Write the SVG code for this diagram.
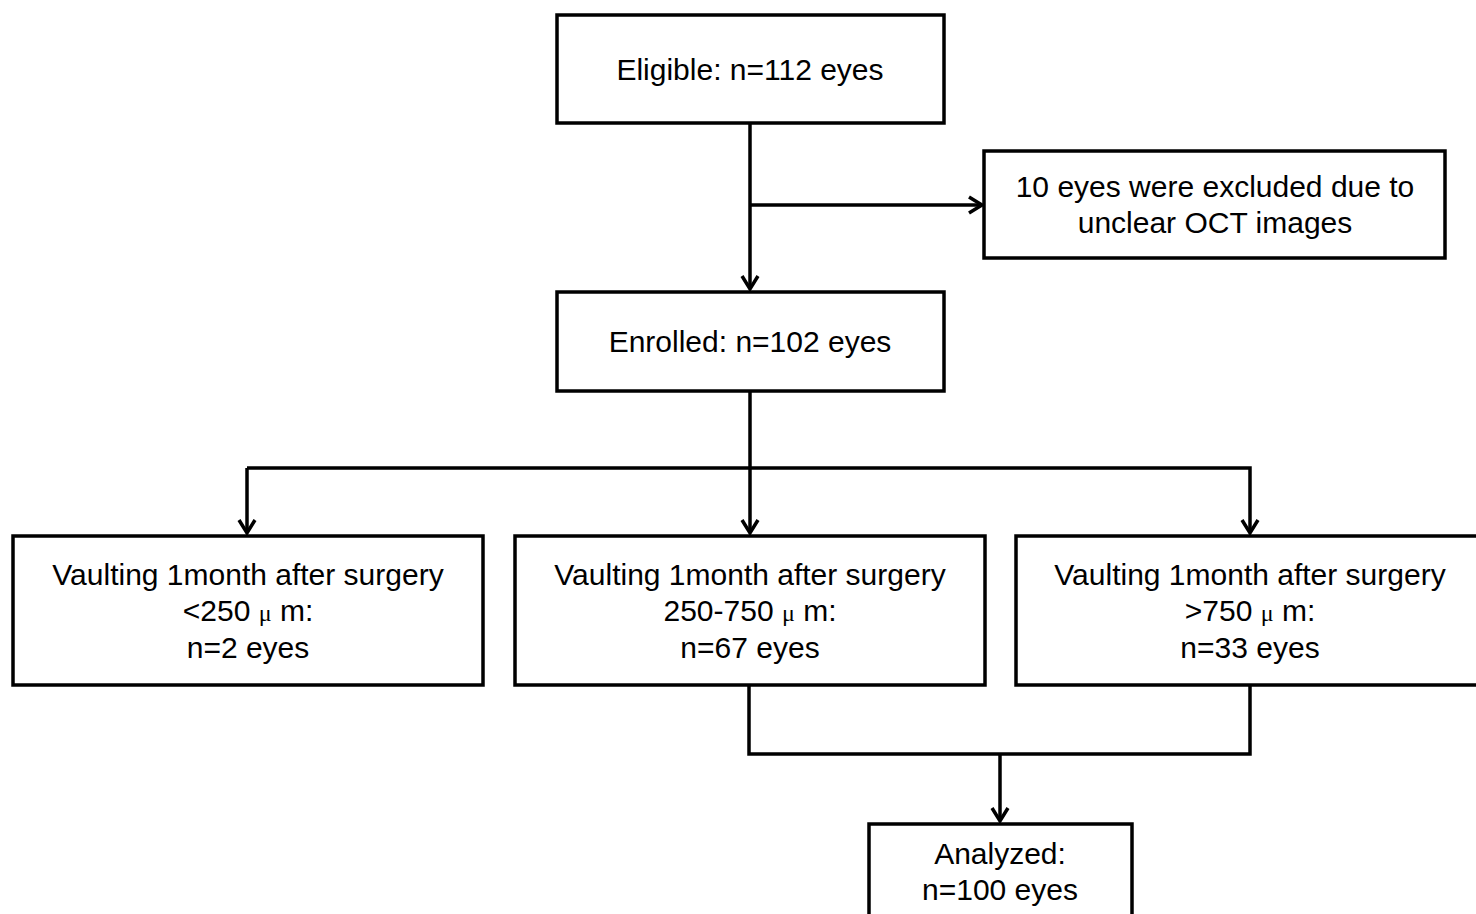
<svg xmlns="http://www.w3.org/2000/svg" width="1476" height="914" viewBox="0 0 1476 914">
<style>
.box{fill:#fff;stroke:#000;stroke-width:3.5}
.ln{fill:none;stroke:#000;stroke-width:3.5}
text{font-family:"Liberation Sans",Arial,sans-serif;font-size:30px;fill:#000;text-anchor:middle}
.mu{font-family:"Liberation Serif","Times New Roman",serif;font-size:24px}
</style>
<defs>
<marker id="arr" markerWidth="24" markerHeight="24" refX="15" refY="10" orient="auto" markerUnits="userSpaceOnUse">
<path d="M2,2 L15,10 L2,18" fill="none" stroke="#000" stroke-width="3.5"/>
</marker>
</defs>
<rect width="1476" height="914" fill="#fff"/>
<g id="connectors">
<line class="ln" x1="750" y1="123" x2="750" y2="289" marker-end="url(#arr)"/>
<line class="ln" x1="750" y1="205" x2="982" y2="205" marker-end="url(#arr)"/>
<line class="ln" x1="750" y1="391" x2="750" y2="533" marker-end="url(#arr)"/>
<polyline class="ln" points="247,468 1250,468 1250,533" marker-end="url(#arr)"/>
<line class="ln" x1="247" y1="468" x2="247" y2="533" marker-end="url(#arr)"/>
<polyline class="ln" points="749,685 749,754 1250,754 1250,685"/>
<line class="ln" x1="1000" y1="754" x2="1000" y2="821" marker-end="url(#arr)"/>
</g>
<g id="eligible">
<rect class="box" x="557" y="15" width="387" height="108"/>
<text x="750" y="80">Eligible: n=112 eyes</text>
</g>
<g id="excluded">
<rect class="box" x="984" y="151" width="461" height="107"/>
<text x="1215" y="197">10 eyes were excluded due to</text>
<text x="1215" y="233">unclear OCT images</text>
</g>
<g id="enrolled">
<rect class="box" x="557" y="292" width="387" height="99"/>
<text x="750" y="352">Enrolled: n=102 eyes</text>
</g>
<g id="vault-low">
<rect class="box" x="13" y="536" width="470" height="149"/>
<text x="248" y="585">Vaulting 1month after surgery</text>
<text x="248" y="621">&lt;250 <tspan class="mu">μ</tspan> m:</text>
<text x="248" y="658">n=2 eyes</text>
</g>
<g id="vault-mid">
<rect class="box" x="515" y="536" width="470" height="149"/>
<text x="750" y="585">Vaulting 1month after surgery</text>
<text x="750" y="621">250-750 <tspan class="mu">μ</tspan> m:</text>
<text x="750" y="658">n=67 eyes</text>
</g>
<g id="vault-high">
<rect class="box" x="1016" y="536" width="480" height="149"/>
<text x="1250" y="585">Vaulting 1month after surgery</text>
<text x="1250" y="621">&gt;750 <tspan class="mu">μ</tspan> m:</text>
<text x="1250" y="658">n=33 eyes</text>
</g>
<g id="analyzed">
<rect class="box" x="869" y="824" width="263" height="110"/>
<text x="1000" y="864">Analyzed:</text>
<text x="1000" y="900">n=100 eyes</text>
</g>
</svg>
